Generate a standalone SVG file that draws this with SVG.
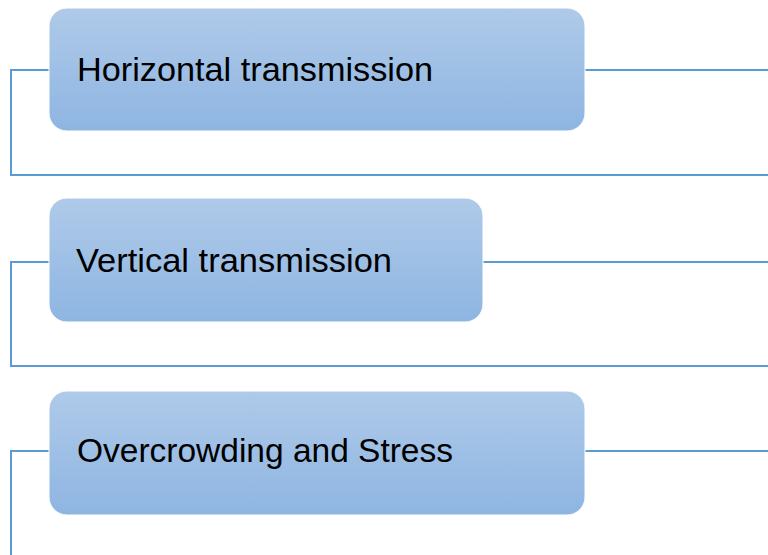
<svg xmlns="http://www.w3.org/2000/svg" width="768" height="555" viewBox="0 0 768 555">
<defs>
<linearGradient id="g" x1="0" y1="0" x2="0" y2="1">
<stop offset="0" stop-color="#AFCAE9"/>
<stop offset="1" stop-color="#8EB5E2"/>
</linearGradient>
<style>
.box{fill:url(#g);stroke:#FFFFFF;stroke-width:1}
.lbl{font-family:"Liberation Sans",Arial,sans-serif;font-size:34px;fill:#000}
.con{fill:none;stroke:#5B9BD5;stroke-width:2}
</style>
</defs>
<rect width="768" height="555" fill="#FFFFFF"/>
<g id="connectors">
<path class="con" d="M49,70 H11 V175 H768"/>
<path class="con" d="M585,70 H768"/>
<path class="con" d="M49,262 H11 V366 H768"/>
<path class="con" d="M483,262 H768"/>
<path class="con" d="M49,451 H11 V555"/>
<path class="con" d="M585,451 H768"/>
</g>
<g id="node1">
<rect class="box" x="49" y="8" width="536" height="123" rx="18"/>
<text class="lbl" x="77" y="81" textLength="356" lengthAdjust="spacingAndGlyphs">Horizontal transmission</text>
</g>
<g id="node2">
<rect class="box" x="49" y="198" width="434" height="124" rx="18"/>
<text class="lbl" x="76" y="272" textLength="316" lengthAdjust="spacingAndGlyphs">Vertical transmission</text>
</g>
<g id="node3">
<rect class="box" x="49" y="391" width="536" height="124" rx="18"/>
<text class="lbl" x="77" y="462" textLength="376" lengthAdjust="spacingAndGlyphs">Overcrowding and Stress</text>
</g>
</svg>
